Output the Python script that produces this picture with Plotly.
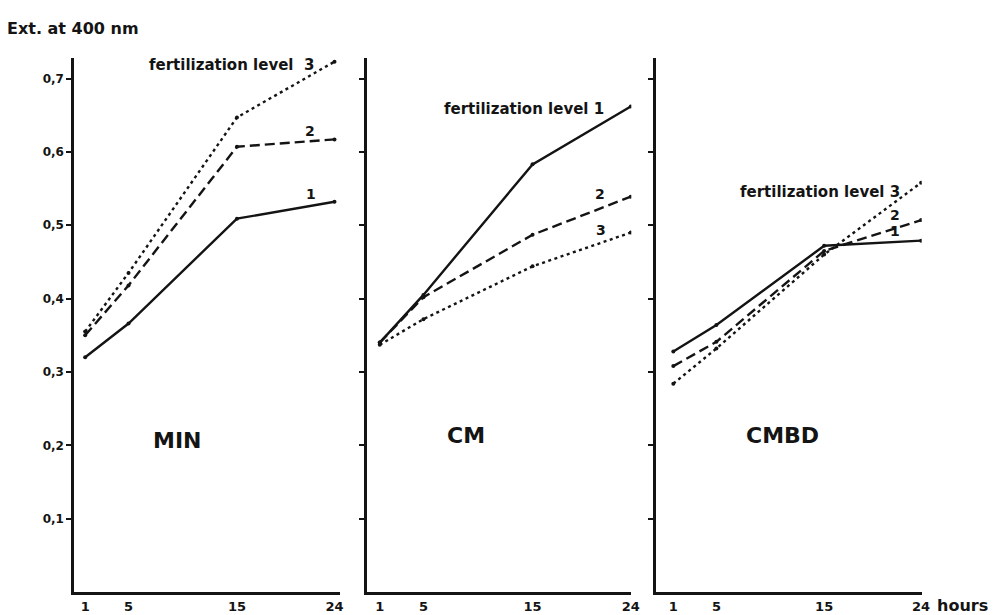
import plotly.graph_objects as go

# ---- data ----
hours = [1, 5, 15, 24]

min_level1 = [0.320, 0.366, 0.509, 0.532]
min_level2 = [0.350, 0.418, 0.607, 0.617]
min_level3 = [0.355, 0.435, 0.647, 0.723]

cm_level1 = [0.340, 0.405, 0.583, 0.662]
cm_level2 = [0.340, 0.402, 0.487, 0.539]
cm_level3 = [0.337, 0.372, 0.444, 0.490]

cmbd_level1 = [0.328, 0.364, 0.472, 0.479]
cmbd_level2 = [0.308, 0.341, 0.465, 0.507]
cmbd_level3 = [0.284, 0.332, 0.460, 0.558]

y_tickvals = [0.1, 0.2, 0.3, 0.4, 0.5, 0.6, 0.7]
y_ticktext = ["0,1", "0,2", "0,3", "0,4", "0,5", "0,6", "0,7"]
x_tickvals = [1, 5, 15, 24]
x_ticktext = ["1", "5", "15", "24"]

panel_names = ["MIN", "CM", "CMBD"]

# ---- style ----
INK = "#141414"
FONT = "DejaVu Sans"
dash_styles = {1: "solid", 2: "10px,5px", 3: "3px,3.5px"}

panels = [
    (panel_names[0], [min_level1, min_level2, min_level3]),
    (panel_names[1], [cm_level1, cm_level2, cm_level3]),
    (panel_names[2], [cmbd_level1, cmbd_level2, cmbd_level3]),
]

x_domains = [[75 / 1004, 343 / 1004], [370 / 1004, 637 / 1004], [662 / 1004, 930 / 1004]]
x_ranges = [[0, 24.5], [-0.2, 24.05], [-0.6, 24.05]]
y_domain = [(615 - 592) / 615, (615 - 58) / 615]
y_range = [0, 0.728]

fig = go.Figure()

for i, (name, series) in enumerate(panels):
    xa = "x" if i == 0 else f"x{i+1}"
    ya = "y" if i == 0 else f"y{i+1}"
    for lvl, vals in enumerate(series, start=1):
        fig.add_trace(go.Scatter(
            x=hours, y=vals, mode="lines+markers",
            line=dict(color=INK, width=2.4, dash=dash_styles[lvl]),
            marker=dict(color=INK, size=4),
            xaxis=xa, yaxis=ya, showlegend=False,
            name=f"{name} level {lvl}",
        ))

layout = dict(
    width=1004, height=615,
    margin=dict(l=0, r=0, t=0, b=0),
    paper_bgcolor="white", plot_bgcolor="white",
    font=dict(family=FONT, color=INK, size=12, weight="bold"),
    showlegend=False,
)

for i in range(3):
    xkey = "xaxis" if i == 0 else f"xaxis{i+1}"
    ykey = "yaxis" if i == 0 else f"yaxis{i+1}"
    xa_anchor = "y" if i == 0 else f"y{i+1}"
    ya_anchor = "x" if i == 0 else f"x{i+1}"
    layout[xkey] = dict(
        domain=x_domains[i], range=x_ranges[i], anchor=xa_anchor,
        showline=True, linecolor=INK, linewidth=3,
        showgrid=False, zeroline=False,
        tickvals=x_tickvals, ticktext=x_ticktext,
        ticks="", ticklen=0,
        tickfont=dict(family=FONT, size=13, color=INK, weight="bold"),
        fixedrange=True,
    )
    layout[ykey] = dict(
        domain=y_domain, range=y_range, anchor=ya_anchor,
        showline=True, linecolor=INK, linewidth=3,
        showgrid=False, zeroline=False,
        tickvals=y_tickvals, ticktext=y_ticktext,
        ticks="outside", ticklen=5, tickwidth=2, tickcolor=INK,
        showticklabels=(i == 0),
        tickfont=dict(family=FONT, size=12, color=INK, weight="bold"),
        fixedrange=True,
    )

fig.update_layout(**layout)

def ann(text, x, y, xref, yref, size=15, xanchor="center", yanchor="middle"):
    fig.add_annotation(text=text, x=x, y=y, xref=xref, yref=yref,
                       showarrow=False, xanchor=xanchor, yanchor=yanchor,
                       font=dict(family=FONT, size=size, color=INK, weight="bold"))

# axis title
ann("Ext. at 400 nm", 5 / 1004, (615 - 28) / 615, "paper", "paper", size=16, xanchor="left")

# MIN panel labels
ann("fertilization level  3", 22.3, 0.719, "x", "y", xanchor="right")
ann("2", 21.7, 0.628, "x", "y", size=14)
ann("1", 21.8, 0.543, "x", "y", size=14)
ann(panel_names[0], 9.5, 0.207, "x", "y", size=22)

# CM panel labels
ann("fertilization level 1", 21.7, 0.659, "x2", "y2", xanchor="right")
ann("2", 21.2, 0.543, "x2", "y2", size=14)
ann("3", 21.3, 0.494, "x2", "y2", size=14)
ann(panel_names[1], 8.9, 0.213, "x2", "y2", size=22)

# CMBD panel labels
ann("fertilization level 3", 22.2, 0.545, "x3", "y3", xanchor="right")
ann("2", 21.6, 0.514, "x3", "y3", size=14)
ann("1", 21.6, 0.492, "x3", "y3", size=14)
ann(panel_names[2], 11.1, 0.213, "x3", "y3", size=22)

# "hours" after the last tick of the third panel
ann("hours", 943 / 1004, (615 - 605) / 615, "paper", "paper", size=16, xanchor="left")

fig.write_html(
    "out.html",
    config={"displayModeBar": False},
    post_script="document.body.style.margin='0';document.body.style.overflow='hidden';",
)
